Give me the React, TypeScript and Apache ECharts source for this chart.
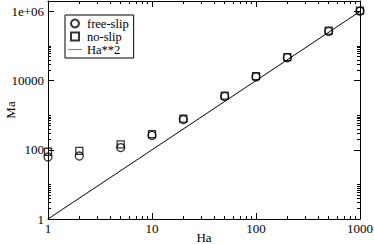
import React, { useEffect, useRef } from "react";
import * as echarts from "echarts";

const haValues = [1, 2, 5, 10, 20, 50, 100, 200, 500, 1000];
const freeSlipMa = [62, 66, 116, 260, 750, 3500, 12800, 46000, 265000, 1020000];
const noSlipMa = [88, 93, 143, 285, 800, 3700, 13500, 48000, 278000, 1060000];
const lineHa = [1, 1000];
const lineMa = [1, 1000000];

const xMajor = [1, 10, 100, 1000];
const xMinor = [2, 3, 4, 5, 6, 7, 8, 9, 20, 30, 40, 50, 60, 70, 80, 90, 200, 300, 400, 500, 600, 700, 800, 900];
const yMajor = [1, 100, 10000, 1000000];
const yMinor = [2, 3, 4, 5, 6, 7, 8, 9, 10, 200, 300, 400, 500, 600, 700, 800, 900, 1000, 20000, 30000, 40000, 50000, 60000, 70000, 80000, 90000, 100000];

const FONT = "'Liberation Serif', 'Times New Roman', Times, serif";
const X_MIN = 1, X_MAX = 1000, Y_MIN = 1, Y_MAX = 2000000;

function fmt(v: number) {
  const r = Math.round(v);
  return r >= 1000000 ? "1e+06" : String(r);
}

function axis(kind: "x" | "y", position: string, ticks: number[], len: number, showLine: boolean, labels: boolean, extra: any = {}) {
  return {
    type: "log",
    logBase: 10,
    position,
    min: kind === "x" ? X_MIN : Y_MIN,
    max: kind === "x" ? X_MAX : Y_MAX,
    axisLine: { show: showLine, lineStyle: { color: "#000", width: 1 } },
    axisTick: { show: true, inside: true, length: len, customValues: ticks, lineStyle: { color: "#000", width: 1 } },
    axisLabel: labels
      ? { show: true, customValues: ticks, formatter: fmt, margin: kind === "x" ? 3 : 4, color: "#000", fontFamily: FONT, fontSize: 13 }
      : { show: false },
    splitLine: { show: false },
    minorTick: { show: false },
    nameMoveOverlap: false,
    ...extra,
  };
}

export default function App() {
  const ref = useRef<HTMLDivElement>(null);
  useEffect(() => {
    if (!ref.current) return;
    const chart = echarts.init(ref.current, undefined, { renderer: "svg" });
    const markerStyle = { color: "rgba(0,0,0,0)", borderColor: "#000", borderWidth: 1.3 };
    chart.setOption({
      animation: false,
      backgroundColor: "#fff",
      grid: { left: 48, right: 14, top: 1, bottom: 25, containLabel: false, outerBoundsMode: "none" },
      legend: {
        orient: "vertical",
        left: 65,
        top: 15,
        borderColor: "#000",
        borderWidth: 1,
        borderRadius: 0,
        padding: [2, 5, 2, 3],
        itemGap: 0,
        itemWidth: 14,
        itemHeight: 8,
        textStyle: { fontFamily: FONT, fontSize: 12.5, color: "#000", lineHeight: 13 },
        data: [
          { name: "free-slip", icon: "circle" },
          { name: "no-slip", icon: "path://M0 0H10V10H0Z" },
          { name: "Ha**2", icon: "path://M0 0H28V1H0Z", itemStyle: { color: "#000", borderWidth: 0 } },
        ],
      },
      xAxis: [
        axis("x", "bottom", xMajor, 6, true, true, {
          name: "Ha",
          nameLocation: "middle",
          nameGap: 12,
          nameTextStyle: { fontFamily: FONT, fontSize: 13, color: "#000" },
        }),
        axis("x", "bottom", xMinor, 3, false, false),
        axis("x", "top", xMajor, 6, true, false),
        axis("x", "top", xMinor, 3, false, false),
      ],
      yAxis: [
        axis("y", "left", yMajor, 6, true, true, {
          name: "Ma",
          nameLocation: "middle",
          nameGap: 31,
          nameRotate: 90,
          nameTextStyle: { fontFamily: FONT, fontSize: 13, color: "#000" },
        }),
        axis("y", "left", yMinor, 3, false, false),
        axis("y", "right", yMajor, 6, true, false),
        axis("y", "right", yMinor, 3, false, false),
      ],
      series: [
        {
          name: "Ha**2",
          type: "line",
          xAxisIndex: 0,
          yAxisIndex: 0,
          data: lineHa.map((h, i) => [h, lineMa[i]]),
          symbol: "none",
          lineStyle: { color: "#000", width: 1 },
          itemStyle: { color: "#000" },
        },
        {
          name: "free-slip",
          type: "scatter",
          xAxisIndex: 0,
          yAxisIndex: 0,
          clip: false,
          symbol: "circle",
          symbolSize: 8,
          data: haValues.map((h, i) => [h, freeSlipMa[i]]),
          itemStyle: markerStyle,
        },
        {
          name: "no-slip",
          type: "scatter",
          xAxisIndex: 0,
          yAxisIndex: 0,
          clip: false,
          symbol: "rect",
          symbolSize: 7,
          data: haValues.map((h, i) => [h, noSlipMa[i]]),
          itemStyle: markerStyle,
        },
      ],
    });
    return () => chart.dispose();
  }, []);
  return <div ref={ref} style={{ position: "fixed", left: 0, top: 0, width: 374, height: 244 }} />;
}
